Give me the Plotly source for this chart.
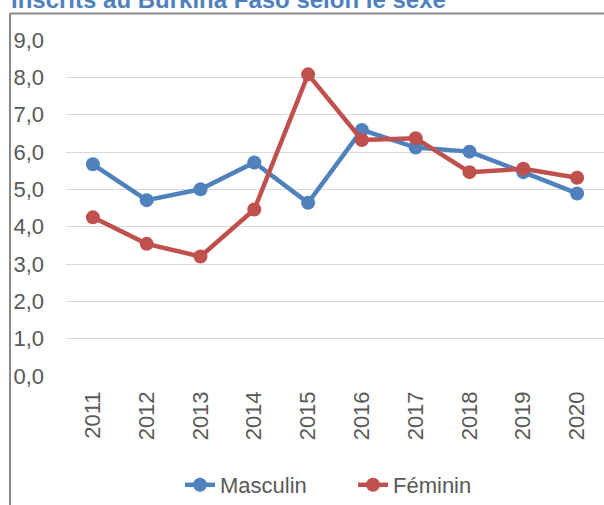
import plotly.graph_objects as go

years = ["2011", "2012", "2013", "2014", "2015", "2016", "2017", "2018", "2019", "2020"]
masculin = [5.67, 4.71, 5.00, 5.72, 4.64, 6.59, 6.12, 6.01, 5.46, 4.89]
feminin = [4.25, 3.54, 3.20, 4.46, 8.08, 6.32, 6.37, 5.46, 5.55, 5.31]
yticks = [0, 1, 2, 3, 4, 5, 6, 7, 8, 9]
title = "Inscrits au Burkina Faso selon le sexe"

W, H = 604, 505
L, R, T, B = 66, 0, 40, 129
pw, ph = W - L - R, H - T - B

def px_x(x):
    return (x - L) / pw

def px_y(y):
    return (H - B - y) / ph

font = "Liberation Sans, Arial, sans-serif"
grey = "#595959"

fig = go.Figure()
fig.add_trace(go.Scatter(x=years, y=masculin, name="Masculin", mode="lines+markers",
                         line=dict(color="#4F81BD", width=4.5),
                         marker=dict(color="#4F81BD", size=14)))
fig.add_trace(go.Scatter(x=years, y=feminin, name="Féminin", mode="lines+markers",
                         line=dict(color="#C0504D", width=4.5),
                         marker=dict(color="#C0504D", size=14)))

fig.update_layout(
    width=W, height=H,
    margin=dict(l=L, r=R, t=T, b=B, pad=0, autoexpand=False),
    paper_bgcolor="white", plot_bgcolor="white",
    separators=", ",
    font=dict(family=font, size=22, color=grey),
    showlegend=True,
    legend=dict(orientation="h", x=px_x(180), y=px_y(485), xanchor="left", yanchor="middle",
                font=dict(family=font, size=22, color=grey), bgcolor="rgba(0,0,0,0)",
                entrywidth=128, tracegroupgap=0),
    xaxis=dict(type="category", range=[-0.5, 9.5], showgrid=False, zeroline=False,
               showline=False, ticks="", tickangle=-90, ticklabelstandoff=10,
               tickfont=dict(family=font, size=22, color=grey), fixedrange=True,
               automargin=False),
    yaxis=dict(range=[0, 9], tickvals=yticks, tickformat=".1f", showgrid=True,
               gridcolor="#D9D9D9", gridwidth=1.3, zeroline=False, showline=False,
               ticks="", ticklabelstandoff=21, automargin=False,
               tickfont=dict(family=font, size=22, color=grey), fixedrange=True),
    shapes=[
        dict(type="line", xref="paper", yref="paper", x0=px_x(10), x1=px_x(10),
             y0=px_y(13.5), y1=px_y(510), line=dict(color="#898989", width=2)),
        dict(type="line", xref="paper", yref="paper", x0=px_x(10), x1=px_x(610),
             y0=px_y(13.5), y1=px_y(13.5), line=dict(color="#898989", width=2)),
    ],
    annotations=[
        dict(text="<b>" + title + "</b>", xref="paper", yref="paper", x=px_x(9), y=px_y(15),
             xanchor="left", yanchor="bottom", showarrow=False,
             font=dict(family=font, size=24, color="#4F81BD")),
    ],
)

fig.write_html("out.html", config={"displayModeBar": False},
               post_script="document.body.style.margin='0';document.body.style.overflow='hidden';")
